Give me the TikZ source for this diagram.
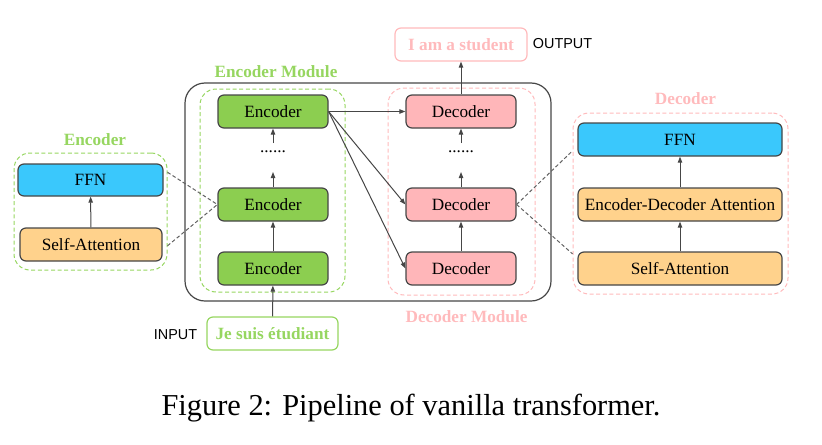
\documentclass[tikz,border=0pt]{standalone}
\usepackage{fontspec}
\setmainfont{Liberation Serif}
\newfontfamily\tagfont{Liberation Sans}
\usetikzlibrary{arrows.meta,positioning}
\definecolor{encgreen}{RGB}{140,206,80}
\definecolor{decpink}{RGB}{255,182,185}
\definecolor{ffncyan}{RGB}{58,200,252}
\definecolor{attorange}{RGB}{255,210,140}
\definecolor{lblgreen}{RGB}{150,214,96}
\definecolor{lblpink}{RGB}{255,186,188}
\definecolor{edgegray}{RGB}{70,70,70}
\tikzset{
  blk/.style={draw=edgegray, line width=0.6pt, rounded corners=3pt, inner sep=0pt,
    minimum height=16.5pt, font=\fontsize{8.6}{10}\selectfont},
  encbox/.style={blk, fill=encgreen, minimum width=55pt},
  decbox/.style={blk, fill=decpink, minimum width=55pt},
  ffnbox/.style={blk, fill=ffncyan},
  attbox/.style={blk, fill=attorange},
  grpbox/.style={draw, dash pattern=on 2pt off 1.3pt, line width=0.5pt, rounded corners=8pt, inner sep=0pt},
  grplbl/.style={font=\bfseries\fontsize{8.6}{10}\selectfont},
  iobox/.style={draw, line width=0.6pt, rounded corners=3pt, inner sep=0pt,
    minimum height=16.5pt, font=\bfseries\fontsize{8.6}{10}\selectfont},
  tag/.style={font=\tagfont\fontsize{7.2}{9}\selectfont},
  flow/.style={draw=edgegray, line width=0.5pt, -{Triangle[length=3pt,width=2.2pt]}},
  zoomline/.style={draw=edgegray!85, dash pattern=on 1.8pt off 1.2pt, line width=0.5pt}
}
\begin{document}
\begin{tikzpicture}[x=0.5pt,y=-0.5pt]
\useasboundingbox (0,0) rectangle (822,444);

% outer frame
\draw[edgegray, line width=0.6pt, rounded corners=10pt] (185,83) rectangle (551,301);

% group boxes
\node[grpbox, draw=lblgreen, minimum width=72.5pt, minimum height=101.5pt] (encgrp) at (272.5,190.5) {};
\node[grpbox, draw=lblpink, minimum width=73.5pt, minimum height=103.5pt] (decgrp) at (461.5,191.5) {};
\node[grpbox, draw=lblgreen, minimum width=76.5pt, minimum height=58.5pt] (grpL) at (90.5,211.5) {};
\node[grpbox, draw=lblpink, minimum width=107.5pt, minimum height=90.5pt] (grpR) at (680.5,203.5) {};

\node[grplbl, text=lblgreen] at (276,72) {Encoder Module};
\node[grplbl, text=lblpink] at (466.5,317) {Decoder Module};
\node[grplbl, text=lblgreen] at (95,140) {Encoder};
\node[grplbl, text=lblpink] at (685.5,99) {Decoder};

% encoder stack
\node[encbox] (encA) at (273,268.5) {Encoder};
\node[encbox] (encB) at (273,204.5) {Encoder};
\node[encbox] (encC) at (273,111.5) {Encoder};
\node[font=\fontsize{8.6}{10}\selectfont] (encdots) at (273,152) {......};
\coordinate (enclo) at (273,172);
\coordinate (enchi) at (273,143);

% decoder stack
\node[decbox] (decA) at (461,268.5) {Decoder};
\node[decbox] (decB) at (461,204.5) {Decoder};
\node[decbox] (decC) at (461,111.5) {Decoder};
\node[font=\fontsize{8.6}{10}\selectfont] (decdots) at (461,152) {......};
\coordinate (declo) at (461,172);
\coordinate (dechi) at (461,143);

% input / output
\node[iobox, draw=lblgreen, text=lblgreen, minimum width=65.5pt] (inp) at (272.5,333.5) {Je suis étudiant};
\node[tag] at (175.5,335) {INPUT};
\node[iobox, draw=lblpink, text=lblpink, minimum width=66pt] (outp) at (461,44.5) {I am a student};
\node[tag] at (562.5,44) {OUTPUT};

% left detail
\node[ffnbox, minimum width=72.5pt, minimum height=16pt] (ffnL) at (90.5,180) {FFN};
\node[attbox, minimum width=71pt, minimum height=16.5pt] (saL) at (91,244.5) {Self-Attention};

% right detail
\node[ffnbox, minimum width=102pt] (ffnR) at (680,139.5) {FFN};
\node[attbox, minimum width=102pt] (edaR) at (680,204.5) {Encoder-Decoder Attention};
\node[attbox, minimum width=102pt] (saR) at (680,268.5) {Self-Attention};

% arrows
\draw[flow] (inp) -- (encA);
\draw[flow] (encA) -- (encB);
\draw[flow] (encB) -- (enclo);
\draw[flow] (enchi) -- (encC);
\draw[flow] (decA) -- (decB);
\draw[flow] (decB) -- (declo);
\draw[flow] (dechi) -- (decC);
\draw[flow] (decC) -- (outp);
\draw[flow] (encC.east) -- (decC.west);
\draw[flow] (encC.east) -- (decB.west);
\draw[flow] (encC.east) -- (decA.west);
\draw[flow] (saL) -- (ffnL);
\draw[flow] (saR) -- (edaR);
\draw[flow] (edaR) -- (ffnR);

% zoom lines
\draw[zoomline] (grpL.27) -- (encB.west);
\draw[zoomline] (grpL.-24) -- (encB.west);
\draw[zoomline] (decB.east) -- (grpR.154);
\draw[zoomline] (decB.east) -- (grpR.205);

% caption
\node[font=\fontsize{15.2}{18}\selectfont] (cap) at (411,408) {Figure 2: Pipeline of vanilla transformer.};
\end{tikzpicture}
\end{document}
